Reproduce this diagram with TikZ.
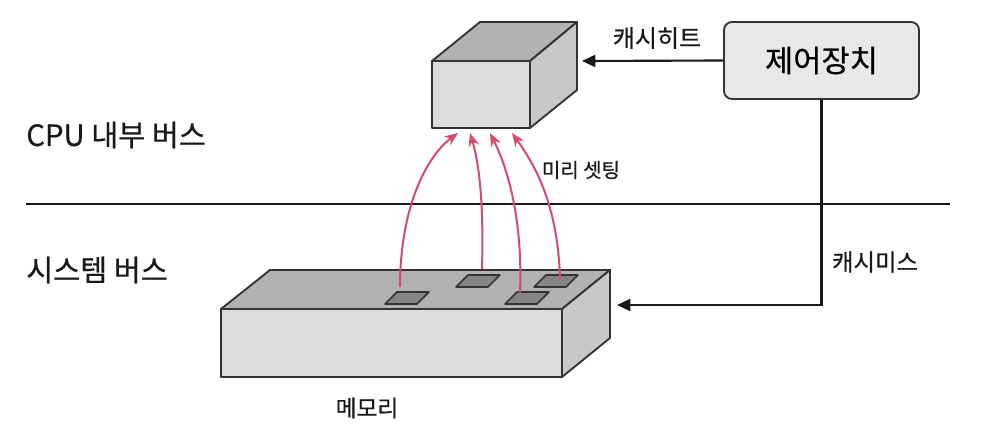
\documentclass[tikz,border=0pt]{standalone}
\usepackage{fontspec}
\setmainfont{Noto Sans CJK KR}[BoldFont={Noto Sans CJK KR},BoldFeatures={FakeBold=0.6}]
\usetikzlibrary{arrows.meta}
\definecolor{edgec}{HTML}{333333}
\definecolor{frontc}{HTML}{DCDCDC}
\definecolor{topc}{HTML}{B2B2B2}
\definecolor{sidec}{HTML}{C8C8C8}
\definecolor{chipc}{HTML}{858585}
\definecolor{boxc}{HTML}{E8E8E8}
\definecolor{redc}{HTML}{D64A6A}
\tikzset{
  face/.style={draw=edgec, line width=1.4pt, line join=round},
  chipbox/.style={draw=edgec, line width=1.2pt, fill=chipc, line join=round},
  conn/.style={draw=black!90, line width=1.6pt, -{Triangle[length=10pt,width=9pt]}},
  redarrow/.style={draw=redc, line width=1.5pt, -{Stealth[length=10pt,width=8pt]}},
  lbl/.style={inner sep=0pt, text=black!90},
}
\begin{document}
\begin{tikzpicture}[x=0.75pt,y=-0.75pt]
\useasboundingbox (0,0) rectangle (984,428);
% cache cube
\draw[face, fill=topc] (432,61) -- (480,22) -- (577,22) -- (530,61) -- cycle;
\draw[face, fill=sidec] (530,61) -- (577,22) -- (577,90) -- (530,128) -- cycle;
\draw[face, fill=frontc] (432,61) rectangle (530,128);
\coordinate (cachehit) at (582,61);
\coordinate (t1) at (458,133);
\coordinate (t2) at (470,133);
\coordinate (t3) at (490,133);
\coordinate (t4) at (512,133);
% control unit
\node[draw=edgec, line width=1.4pt, fill=boxc, rounded corners=6pt,
      minimum width=146.25pt, minimum height=57.75pt, font=\bfseries\fontsize{23}{27}\selectfont]
      (ctrl) at (821.5,60.5) {제어장치};
% bus line
\coordinate (busL) at (26,204);
\coordinate (busR) at (950,204);
\draw[line width=2.2pt, black!90] (busL) -- (busR);
% memory
\draw[face, fill=topc] (221,309) -- (270,270) -- (610,270) -- (562,309) -- cycle;
\draw[face, fill=sidec] (562,309) -- (610,270) -- (610,338) -- (562,377) -- cycle;
\draw[face, fill=frontc] (221,309) rectangle (562,377);
\coordinate (missend) at (617,305);
% chips
\foreach \n/\x/\y in {1/385/304, 2/456/287, 3/505/304, 4/534/287}{
  \draw[chipbox] (\x,\y) -- (\x+32,\y) -- (\x+44,\y-12) -- (\x+12,\y-12) -- cycle;
}
\coordinate (s1) at (400,287);
\coordinate (s2) at (482,269);
\coordinate (s3) at (520,293);
\coordinate (s4) at (560,279);
% connectors
\draw[conn] (ctrl.west) -- (cachehit);
\draw[conn] (ctrl.south) |- (missend);
\draw[redarrow] (s1) .. controls (400,205) and (428,155) .. (t1);
\draw[redarrow] (s2) .. controls (484,195) and (478,160) .. (t2);
\draw[redarrow] (s3) .. controls (523,215) and (506,165) .. (t3);
\draw[redarrow] (s4) .. controls (558,205) and (535,165) .. (t4);
% labels
\node[lbl, font=\bfseries\fontsize{18}{21}\selectfont] (lhit) at (657,38) {캐시히트};
\node[lbl, font=\bfseries\fontsize{17.5}{21}\selectfont] (lmiss) at (875,262) {캐시미스};
\node[lbl, font=\bfseries\fontsize{15}{18}\selectfont] (lpre) at (581,170) {미리 셋팅};
\node[lbl, anchor=west, font=\bfseries\fontsize{22}{26}\selectfont] (lcpu) at (26,135) {CPU 내부 버스};
\node[lbl, anchor=west, font=\bfseries\fontsize{22}{26}\selectfont] (lsys) at (26,270) {시스템 버스};
\node[lbl, font=\bfseries\fontsize{17}{20}\selectfont] (lmem) at (367,408) {메모리};
\end{tikzpicture}
\end{document}
